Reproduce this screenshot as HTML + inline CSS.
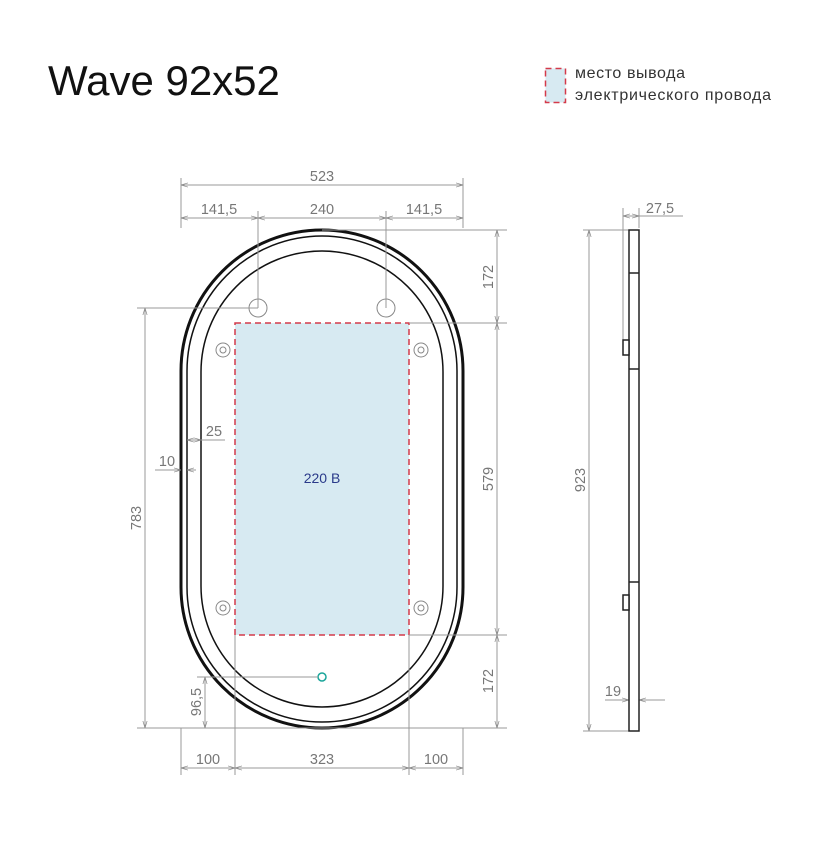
<!DOCTYPE html>
<html><head><meta charset="utf-8"><style>
body{margin:0;background:#fff}
svg text{font-family:"Liberation Sans",sans-serif}
</style></head><body>
<svg width="834" height="840" viewBox="0 0 834 840" xmlns="http://www.w3.org/2000/svg">
<defs>
<marker id="a" viewBox="0 0 10 10" refX="10" refY="5" markerWidth="7" markerHeight="7" orient="auto-start-reverse"><path d="M0,2 L10,5 L0,8" fill="none" stroke="#888" stroke-width="1"/></marker>
</defs>
<text x="48" y="95" font-size="42" fill="#111">Wave 92x52</text>
<rect x="545.5" y="68.5" width="20" height="34" fill="#d7eaf2" stroke="#d43a4a" stroke-width="1.5" stroke-dasharray="6,4"/>
<text x="575" y="78" font-size="16" fill="#333" textLength="110">место вывода</text>
<text x="575" y="100" font-size="16" fill="#333" textLength="196">электрического провода</text>

<rect x="235" y="323" width="174" height="312" fill="#d7eaf2" stroke="#d43a4a" stroke-width="1.5" stroke-dasharray="6,4"/>
<text x="322" y="483" font-size="14" fill="#2a3a8a" text-anchor="middle">220 В</text>

<rect x="181" y="230" width="282" height="498" rx="141" ry="141" fill="none" stroke="#111" stroke-width="3"/>
<rect x="187" y="236" width="270" height="486" rx="135" ry="135" fill="none" stroke="#111" stroke-width="1.5"/>
<rect x="201" y="251" width="242" height="456" rx="121" ry="121" fill="none" stroke="#111" stroke-width="1.5"/>

<g fill="none" stroke="#888" stroke-width="1">
<circle cx="258" cy="308" r="9"/><circle cx="386" cy="308" r="9"/>
<circle cx="223" cy="350" r="7"/><circle cx="223" cy="350" r="3"/>
<circle cx="421" cy="350" r="7"/><circle cx="421" cy="350" r="3"/>
<circle cx="223" cy="608" r="7"/><circle cx="223" cy="608" r="3"/>
<circle cx="421" cy="608" r="7"/><circle cx="421" cy="608" r="3"/>
</g>
<circle cx="322" cy="677" r="4" fill="none" stroke="#1aa59a" stroke-width="1.5"/>

<g stroke="#999" stroke-width="1" fill="none">
<line x1="181" y1="178" x2="181" y2="228"/><line x1="463" y1="178" x2="463" y2="228"/>
<line x1="258" y1="211" x2="258" y2="308"/><line x1="386" y1="211" x2="386" y2="308"/>
<line x1="181" y1="185" x2="463" y2="185" marker-start="url(#a)" marker-end="url(#a)"/>
<line x1="181" y1="218" x2="258" y2="218" marker-start="url(#a)" marker-end="url(#a)"/>
<line x1="258" y1="218" x2="386" y2="218" marker-start="url(#a)" marker-end="url(#a)"/>
<line x1="386" y1="218" x2="463" y2="218" marker-start="url(#a)" marker-end="url(#a)"/>
<line x1="322" y1="230" x2="507" y2="230"/>
<line x1="409" y1="323" x2="507" y2="323"/>
<line x1="409" y1="635" x2="507" y2="635"/>
<line x1="137" y1="728" x2="507" y2="728"/>
<line x1="497" y1="230" x2="497" y2="323" marker-start="url(#a)" marker-end="url(#a)"/>
<line x1="497" y1="323" x2="497" y2="635" marker-start="url(#a)" marker-end="url(#a)"/>
<line x1="497" y1="635" x2="497" y2="728" marker-start="url(#a)" marker-end="url(#a)"/>
<line x1="137" y1="308" x2="258" y2="308"/>
<line x1="145" y1="308" x2="145" y2="728" marker-start="url(#a)" marker-end="url(#a)"/>
<line x1="197" y1="677" x2="318" y2="677"/>
<line x1="205" y1="677" x2="205" y2="728" marker-start="url(#a)" marker-end="url(#a)"/>
<line x1="181" y1="728" x2="181" y2="775"/><line x1="235" y1="635" x2="235" y2="775"/>
<line x1="409" y1="635" x2="409" y2="775"/><line x1="463" y1="728" x2="463" y2="775"/>
<line x1="181" y1="768" x2="235" y2="768" marker-start="url(#a)" marker-end="url(#a)"/>
<line x1="235" y1="768" x2="409" y2="768" marker-start="url(#a)" marker-end="url(#a)"/>
<line x1="409" y1="768" x2="463" y2="768" marker-start="url(#a)" marker-end="url(#a)"/>
<line x1="187" y1="440" x2="201" y2="440" marker-start="url(#a)" marker-end="url(#a)"/>
<line x1="201" y1="440" x2="225" y2="440"/>
<line x1="155" y1="470" x2="181" y2="470" marker-end="url(#a)"/>
<line x1="196" y1="470" x2="187" y2="470" marker-end="url(#a)"/>
<line x1="583" y1="230" x2="629" y2="230"/><line x1="583" y1="731" x2="629" y2="731"/>
<line x1="589" y1="230" x2="589" y2="731" marker-start="url(#a)" marker-end="url(#a)"/>
<line x1="623" y1="208" x2="623" y2="345"/><line x1="639" y1="208" x2="639" y2="228"/>
<line x1="623" y1="216" x2="639" y2="216" marker-start="url(#a)" marker-end="url(#a)"/>
<line x1="639" y1="216" x2="683" y2="216"/>
<line x1="605" y1="700" x2="629" y2="700" marker-end="url(#a)"/>
<line x1="665" y1="700" x2="639" y2="700" marker-end="url(#a)"/>
</g>

<g font-size="14.5" fill="#777" text-anchor="middle">
<text x="322" y="181">523</text>
<text x="219" y="214">141,5</text>
<text x="322" y="214">240</text>
<text x="424" y="214">141,5</text>
<text x="208" y="764">100</text>
<text x="322" y="764">323</text>
<text x="436" y="764">100</text>
<text x="214" y="436">25</text>
<text x="167" y="466">10</text>
<text x="613" y="696">19</text>
<text x="660" y="213">27,5</text>
<text transform="translate(493,277) rotate(-90)">172</text>
<text transform="translate(493,479) rotate(-90)">579</text>
<text transform="translate(493,681) rotate(-90)">172</text>
<text transform="translate(141,518) rotate(-90)">783</text>
<text transform="translate(201,702) rotate(-90)">96,5</text>
<text transform="translate(585,480) rotate(-90)">923</text>
</g>

<g fill="#fff" stroke="#222" stroke-width="1.5">
<rect x="629" y="230" width="10" height="501"/>
<rect x="623" y="340" width="6" height="15"/>
<rect x="623" y="595" width="6" height="15"/>
</g>
<g stroke="#222" stroke-width="1.5">
<line x1="629" y1="273" x2="639" y2="273"/>
<line x1="629" y1="369" x2="639" y2="369"/>
<line x1="629" y1="582" x2="639" y2="582"/>
</g>
</svg>
</body></html>
